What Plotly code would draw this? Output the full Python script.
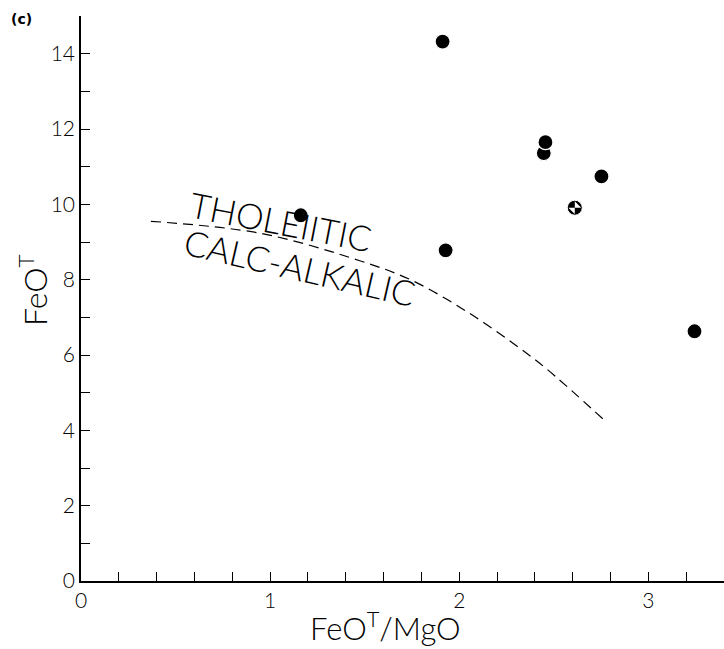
import plotly.graph_objects as go

# ---- data ----
ratio_solid = [1.912, 1.162, 1.928, 2.447, 2.456, 2.752, 3.244]
feot_solid = [14.32, 9.71, 8.78, 11.36, 11.65, 10.74, 6.63]

ratio_split = [2.611]
feot_split = [9.91]

curve_x = [0.37, 0.95, 1.47, 1.75, 2.05, 2.32, 2.46, 2.78]
curve_y = [9.55, 9.23, 8.51, 7.98, 7.12, 6.18, 5.64, 4.21]

x_tickvals = [round(i * 0.2, 1) for i in range(18)]
x_ticktext = ["0" if v == 0 else (str(int(v)) if abs(v - round(v)) < 1e-9 else "") for v in x_tickvals]
y_tickvals = list(range(16))
y_ticktext = [str(v) if v % 2 == 0 else "" for v in y_tickvals]

FONT = "Lato"
LABEL_FONT = "Lato"

fig = go.Figure()

fig.add_trace(go.Scatter(
    x=curve_x, y=curve_y, mode="lines",
    line=dict(color="black", width=1.2, dash="10px,6px", shape="spline", smoothing=1.0),
    hoverinfo="skip", showlegend=False))

fig.add_trace(go.Scatter(
    x=ratio_solid, y=feot_solid, mode="markers",
    marker=dict(symbol="circle", size=15, color="black", line=dict(color="white", width=1.2)),
    showlegend=False))

fig.add_trace(go.Scatter(
    x=ratio_split, y=feot_split, mode="markers",
    marker=dict(symbol="circle", size=15, color="black", line=dict(color="white", width=1)),
    showlegend=False))
fig.add_trace(go.Scatter(
    x=ratio_split, y=feot_split, mode="markers",
    marker=dict(symbol="bowtie", size=9, color="white", angle=-45, line=dict(width=0)),
    showlegend=False))

fig.add_annotation(x=1.06, y=9.55, xref="x", yref="y", text="THOLEIITIC",
                   showarrow=False, textangle=11,
                   font=dict(family=LABEL_FONT, size=35, color="black", weight=300))
fig.add_annotation(x=1.16, y=8.33, xref="x", yref="y", text="CALC-ALKALIC",
                   showarrow=False, textangle=13,
                   font=dict(family=LABEL_FONT, size=35, color="black", weight=300))

fig.add_annotation(x=0.474, y=-0.08, xref="paper", yref="paper", text="FeO<sup>T</sup>/MgO",
                   showarrow=False, xanchor="center", yanchor="middle",
                   font=dict(family=FONT, size=31, color="black", weight=300))
fig.add_annotation(x=-0.0747, y=0.515, xref="paper", yref="paper", text="FeO<sup>T</sup>",
                   showarrow=False, textangle=-90, xanchor="center", yanchor="middle",
                   font=dict(family=FONT, size=32, color="black", weight=300))
fig.add_annotation(x=-0.092, y=0.995, xref="paper", yref="paper", text="(c)",
                   showarrow=False, xanchor="center", yanchor="middle",
                   font=dict(family="DejaVu Sans", size=14, color="black", weight="bold"))

fig.update_xaxes(range=[0, 3.4], tickmode="array", tickvals=x_tickvals, ticktext=x_ticktext,
                 ticks="inside", ticklen=9, tickwidth=1.2, tickcolor="black",
                 showline=True, linecolor="black", linewidth=1.5, showgrid=False, zeroline=False,
                 tickfont=dict(family=FONT, size=21, color="black", weight=300))
fig.update_yaxes(range=[0, 15], tickmode="array", tickvals=y_tickvals, ticktext=y_ticktext,
                 ticks="inside", ticklen=9, tickwidth=1.2, tickcolor="black",
                 showline=True, linecolor="black", linewidth=1.5, showgrid=False, zeroline=False,
                 tickfont=dict(family=FONT, size=21, color="black", weight=300))

fig.update_layout(width=724, height=649, margin=dict(l=81, r=0, t=16, b=68),
                  plot_bgcolor="white", paper_bgcolor="white")

fig.write_html("out.html")
